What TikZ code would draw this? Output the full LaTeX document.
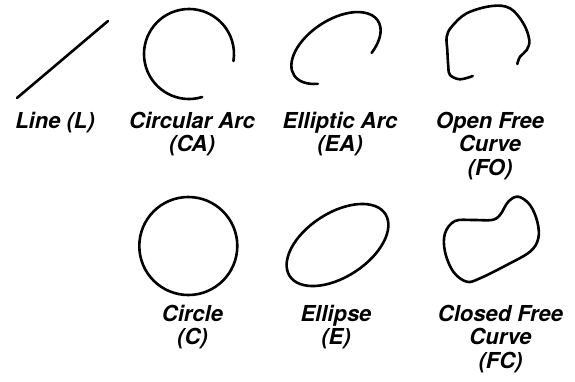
\documentclass[tikz,border=0pt]{standalone}
\usepackage{fontspec}
\setmainfont{TeX Gyre Heros}
\begin{document}
\begin{tikzpicture}[x=1pt,y=-1pt,
  curve/.style={draw=black,line width=2.6pt,line cap=round,line join=round},
  lbl/.style={anchor=base,align=center,inner sep=0pt,
    font=\fontsize{22}{23.8}\selectfont\bfseries\itshape}]
\useasboundingbox[fill=white] (0,0) rectangle (575,381);
% Line
\coordinate (l1) at (17,98);
\coordinate (l2) at (108,21);
\draw[curve] (l1) -- (l2);
% Circular arc
\begin{scope}[shift={(189,54)}]
  \draw[curve] (73:45) arc[start angle=73,end angle=369,radius=45];
\end{scope}
% Elliptic arc
\begin{scope}[shift={(336,48)},rotate=33]
  \draw[curve] (134:50 and 28) arc[start angle=134,end angle=417,x radius=50,y radius=28];
\end{scope}
% Open free curve
\draw[curve] plot[smooth,tension=0.6] coordinates {
  (472.7,76) (460,79.3) (450,75) (448.3,66.7) (447.3,50) (446.7,36.7)
  (451.7,26.7) (466.7,13.3) (491.7,6) (510,8.3) (523.3,23.3) (529.3,40)
  (526.7,50) (520,56.7) (517.3,64)};
% Circle
\draw[curve] (188.3,246) circle[radius=49];
% Ellipse
\draw[curve] (337.5,245) ellipse[x radius=57,y radius=32,rotate=33];
% Closed free curve
\draw[curve] plot[smooth cycle,tension=0.6] coordinates {
  (518.3,196.7) (530,205) (537.3,221.7) (538.3,238.3) (530,251.7)
  (506.7,265) (480,278.3) (466.7,281.7) (453.3,271.7) (445,251.7)
  (445,233.3) (455,221) (473.3,220) (491.7,220) (500,215) (508.3,201.7)};
% Labels (base anchor = baseline of the last line)
\node[lbl] (tL) at (55,128) {Line (L)};
\node[lbl] (tCA) at (192,151.8) {Circular Arc\\(CA)};
\node[lbl] (tEA) at (340,151.8) {Elliptic Arc\\(EA)};
\node[lbl] (tFO) at (490,175.6) {Open Free\\Curve\\(FO)};
\node[lbl] (tC) at (192.5,344.8) {Circle\\(C)};
\node[lbl] (tE) at (336,344.8) {Ellipse\\(E)};
\node[lbl] (tFC) at (500.5,368.6) {Closed Free\\Curve\\(FC)};
\end{tikzpicture}
\end{document}
